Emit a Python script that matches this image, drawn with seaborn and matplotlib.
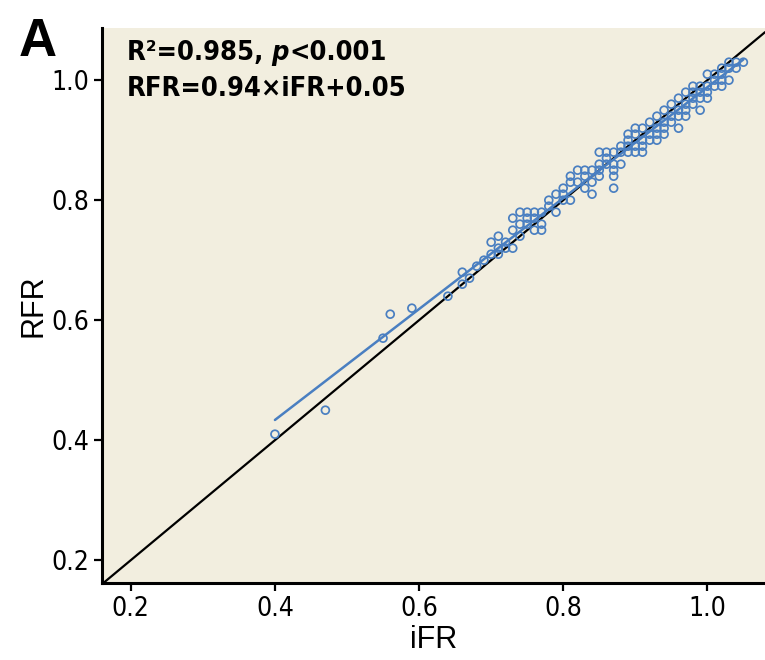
import numpy as np
import pandas as pd
import seaborn as sns
import matplotlib.pyplot as plt

# iFR values (columns) and the RFR readings seen at each one
ifr_cols = [0.40, 0.47, 0.55, 0.56, 0.59, 0.64, 0.66, 0.67, 0.68, 0.69,
            0.70, 0.71, 0.72, 0.73, 0.74, 0.75, 0.76, 0.77, 0.78, 0.79,
            0.80, 0.81, 0.82, 0.83, 0.84, 0.85, 0.86, 0.87, 0.88, 0.89,
            0.90, 0.91, 0.92, 0.93, 0.94, 0.95, 0.96, 0.97, 0.98, 0.99,
            1.00, 1.01, 1.02, 1.03, 1.04, 1.05]
rfr_cols = [[0.41], [0.45], [0.57], [0.61], [0.62], [0.64], [0.66, 0.68],
            [0.67], [0.69], [0.70],
            [0.71, 0.73], [0.71, 0.72, 0.74], [0.72, 0.73], [0.72, 0.75, 0.77],
            [0.74, 0.76, 0.78], [0.76, 0.77, 0.78], [0.75, 0.77, 0.78],
            [0.75, 0.76, 0.78], [0.79, 0.80], [0.78, 0.81],
            [0.80, 0.81, 0.82], [0.80, 0.83, 0.84], [0.83, 0.85],
            [0.82, 0.84, 0.85], [0.81, 0.83, 0.85], [0.84, 0.85, 0.86, 0.88],
            [0.86, 0.87, 0.88], [0.82, 0.84, 0.85, 0.86, 0.88],
            [0.86, 0.88, 0.89], [0.88, 0.89, 0.90, 0.91],
            [0.88, 0.89, 0.91, 0.92], [0.88, 0.89, 0.90, 0.92],
            [0.90, 0.91, 0.93], [0.90, 0.91, 0.92, 0.94],
            [0.91, 0.92, 0.93, 0.95], [0.93, 0.94, 0.96],
            [0.92, 0.94, 0.95, 0.97], [0.94, 0.95, 0.96, 0.98],
            [0.96, 0.97, 0.98, 0.99], [0.95, 0.97, 0.98, 0.99],
            [0.97, 0.98, 0.99, 1.01], [0.99, 1.00, 1.01],
            [0.99, 1.00, 1.01, 1.02], [1.00, 1.02, 1.03], [1.02, 1.03], [1.03]]

x_ticks = [0.2, 0.4, 0.6, 0.8, 1.0]
y_ticks = [0.2, 0.4, 0.6, 0.8, 1.0]

ifr = [x for x, ys in zip(ifr_cols, rfr_cols) for _ in ys]
rfr = [y for ys in rfr_cols for y in ys]
df = pd.DataFrame({"iFR": ifr, "RFR": rfr})

sns.set_style("ticks")
plt.rcParams["font.family"] = ["DejaVu Sans"]
plt.rcParams["text.color"] = "black"
plt.rcParams["axes.labelcolor"] = "black"

bg = "#f2eedf"
blue = "#4a7fc1"

fig = plt.figure(figsize=(7.65, 6.6), dpi=100)
ax = fig.add_axes([0.1333, 0.1167, 0.8667, 0.8409])
ax.set_facecolor(bg)

ax.set_xlim(0.16, 1.08)
ax.set_ylim(0.162, 1.087)

# line of identity
ax.axline((0.5, 0.5), slope=1, color="black", lw=1.6, zorder=2)

sns.scatterplot(data=df, x="iFR", y="RFR", ax=ax, marker="o", s=32,
                facecolor="none", edgecolor=blue, linewidth=1.25, zorder=3)
sns.regplot(data=df, x="iFR", y="RFR", ax=ax, scatter=False, ci=None,
            truncate=True, line_kws={"color": blue, "lw": 1.8, "zorder": 4})

ax.set_xticks(x_ticks)
ax.set_yticks(y_ticks)
ax.set_xticklabels([f"{t:.1f}" for t in x_ticks])
ax.set_yticklabels([f"{t:.1f}" for t in y_ticks])
ax.tick_params(labelsize=19, length=6, width=1.6, colors="black")
for lab in ax.get_xticklabels() + ax.get_yticklabels():
    lab.set_fontstretch("condensed")

for side in ["top", "right"]:
    ax.spines[side].set_visible(False)
for side in ["left", "bottom"]:
    ax.spines[side].set_linewidth(2.2)
    ax.spines[side].set_color("black")

ax.set_xlabel("iFR", fontsize=22, family=["Liberation Sans", "DejaVu Sans"], labelpad=2)
ax.set_ylabel("RFR", fontsize=22, family=["Liberation Sans", "DejaVu Sans"], labelpad=2)

note = dict(fontsize=19.5, fontweight="bold", fontstretch="condensed", color="black")
t1 = ax.text(0.037, 0.978, "R²=0.985, ", transform=ax.transAxes,
             va="top", ha="left", **note)
t2 = ax.annotate("p", xy=(1, 0), xycoords=t1, va="bottom", ha="left",
                 fontstyle="italic", **note)
ax.annotate("<0.001", xy=(1, 0), xycoords=t2, va="bottom", ha="left", **note)
ax.text(0.037, 0.913, "RFR=0.94×iFR+0.05", transform=ax.transAxes,
        va="top", ha="left", **note)

fig.text(0.025, 0.975, "A", fontsize=38, fontweight="bold", va="top", ha="left",
         family=["Liberation Sans", "DejaVu Sans"])

plt.savefig("out.png", dpi=100)
